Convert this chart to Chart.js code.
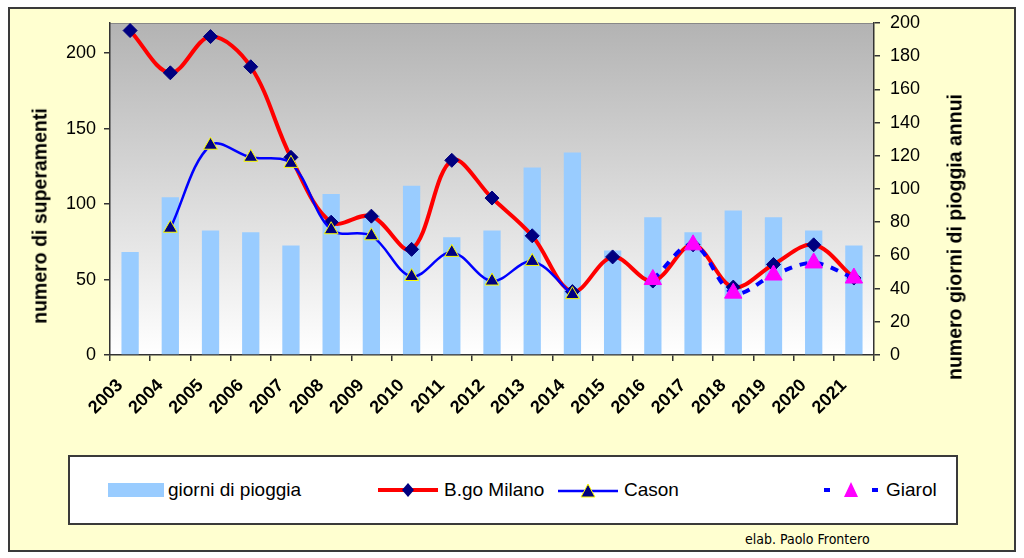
<!DOCTYPE html>
<html><head><meta charset="utf-8">
<script src="https://cdn.jsdelivr.net/npm/chart.js@4"></script>
<style>
html,body{margin:0;padding:0;background:#fff;width:1024px;height:558px;overflow:hidden;font-family:'Liberation Sans',Arial,sans-serif;}
#frame{position:absolute;left:8px;top:7px;width:1008px;height:545px;box-sizing:border-box;border:2px solid #3a3a3a;background:#FFFFD0;}
#wrap{position:absolute;left:0;top:0;width:1024px;height:450px;}
.vt{position:absolute;white-space:nowrap;font-weight:bold;font-size:19.5px;color:#000;transform:translate(-50%,-50%) rotate(-90deg);}
#legend{position:absolute;left:68px;top:455px;width:890px;height:70px;box-sizing:border-box;border:2px solid #3a3a3a;background:#fff;}
.li{position:absolute;top:0;height:66px;display:flex;align-items:center;font-size:19px;color:#000;}
.li svg{margin-right:4px;}
#credit{position:absolute;left:745px;top:531px;font-family:'Liberation Sans Narrow','DejaVu Sans Condensed',sans-serif;font-stretch:condensed;font-size:14px;color:#000;}
</style></head>
<body>
<div id="frame"></div>
<div id="wrap"><canvas id="c" width="1024" height="450"></canvas></div>
<div class="vt" style="left:40px;top:216px;">numero di superamenti</div>
<div class="vt" style="left:955px;top:237px;">numero giorni di pioggia annui</div>
<div id="legend">
  <div class="li" style="left:38px;"><svg width="56" height="16"><rect x="0" y="1" width="56" height="14" fill="#99CCFF"/></svg>giorni di pioggia</div>
  <div class="li" style="left:308px;"><svg width="62" height="18"><line x1="0" y1="9" x2="60" y2="9" stroke="#FF0000" stroke-width="4"/><polygon points="30,2 36,9 30,16 24,9" fill="#000080"/></svg>B.go Milano</div>
  <div class="li" style="left:488px;"><svg width="62" height="18"><line x1="0" y1="10" x2="60" y2="10" stroke="#0000FF" stroke-width="2.5"/><polygon points="30,3 37,16 23,16" fill="#000080" stroke="#FFFF00" stroke-width="1"/></svg>Cason</div>
  <div class="li" style="left:750px;"><svg width="62" height="18"><line x1="4" y1="9" x2="10" y2="9" stroke="#0000FF" stroke-width="4"/><line x1="52" y1="9" x2="58" y2="9" stroke="#0000FF" stroke-width="4"/><polygon points="31,1 38,16 24,16" fill="#FF00FF"/></svg>Giarol</div>
</div>
<div id="credit">elab. Paolo Frontero</div>
<script>
const years = ['2003','2004','2005','2006','2007','2008','2009','2010','2011','2012','2013','2014','2015','2016','2017','2018','2019','2020','2021'];
const rainDays = [62, 95, 75, 74, 66, 97, 84, 102, 71, 75, 113, 122, 63, 83, 74, 87, 83, 75, 66];
const bgoMilano = [215, 187, 211, 191, 131, 88, 92, 70, 129, 104, 79, 42, 65, 49, 73, 45, 60, 73, 51];
const cason = [null, 84, 139, 131, 127, 83, 79, 52, 68, 49, 62, 40, null, null, null, null, null, null, null];
const giarol = [null, null, null, null, null, null, null, null, null, null, null, null, null, 50, 73, 41, 53, 61, 51];
const leftTicks = [0, 50, 100, 150, 200];

const FAM = "'Liberation Sans', Arial, sans-serif";

const bgPlugin = {
  id: 'bg',
  beforeDraw(chart) {
    const {ctx, chartArea: a} = chart;
    const g = ctx.createLinearGradient(0, a.top, 0, a.bottom);
    g.addColorStop(0, '#B3B3B3');
    g.addColorStop(1, '#FFFFFF');
    ctx.save();
    ctx.fillStyle = g;
    ctx.fillRect(a.left, a.top, a.right - a.left, a.bottom - a.top);
    ctx.strokeStyle = '#888888';
    ctx.lineWidth = 1;
    ctx.beginPath();
    ctx.moveTo(a.left, a.top + 0.5);
    ctx.lineTo(a.right, a.top + 0.5);
    ctx.stroke();
    ctx.restore();
  }
};

new Chart(document.getElementById('c'), {
  data: {
    labels: years,
    datasets: [
      { type: 'line', label: 'Giarol', data: giarol, yAxisID: 'y', order: 1,
        borderColor: '#0000FF', borderWidth: 4, borderDash: [8, 8], tension: 0.35,
        pointStyle: 'triangle', pointRadius: 10, pointBackgroundColor: '#FF00FF', pointBorderColor: '#FF00FF', pointBorderWidth: 1 },
      { type: 'line', label: 'Cason', data: cason, yAxisID: 'y', order: 2,
        borderColor: '#0000FF', borderWidth: 2.5, tension: 0.35,
        pointStyle: 'triangle', pointRadius: 8, pointBackgroundColor: '#000080', pointBorderColor: '#FFFF00', pointBorderWidth: 1 },
      { type: 'line', label: 'B.go Milano', data: bgoMilano, yAxisID: 'y', order: 3,
        borderColor: '#FF0000', borderWidth: 4, tension: 0.35,
        pointStyle: 'rectRot', pointRadius: 7, pointBackgroundColor: '#000080', pointBorderColor: '#000080', pointBorderWidth: 1 },
      { type: 'bar', label: 'giorni di pioggia', data: rainDays, yAxisID: 'y1', order: 4,
        backgroundColor: '#99CCFF', borderWidth: 0, barPercentage: 0.43, categoryPercentage: 1 }
    ]
  },
  options: {
    responsive: false,
    animation: false,
    layout: { padding: { top: 23, left: 0, right: 0, bottom: 0 } },
    plugins: { legend: { display: false }, tooltip: { enabled: false } },
    scales: {
      x: {
        offset: true,
        grid: { display: true, drawOnChartArea: false, offset: true, tickLength: 6, color: '#333', lineWidth: 1.5 },
        border: { color: '#333', width: 1.5 },
        ticks: { font: { size: 18, weight: 'bold', family: FAM }, color: '#000', maxRotation: 45, minRotation: 45, autoSkip: false, labelOffset: -10, padding: 14 },
        afterFit(s) { s.height = 95; }
      },
      y: {
        position: 'left', min: 0, max: 220,
        afterBuildTicks(s) { s.ticks = leftTicks.map(v => ({ value: v })); },
        grid: { drawOnChartArea: false, tickLength: 6, color: '#333', lineWidth: 1.5 },
        border: { color: '#333', width: 1.5 },
        ticks: { font: { size: 18, family: FAM }, color: '#000', padding: 8 },
        afterFit(s) { s.width = 110; }
      },
      y1: {
        position: 'right', min: 0, max: 200,
        grid: { drawOnChartArea: false, tickLength: 6, color: '#333', lineWidth: 1.5 },
        border: { color: '#333', width: 1.5 },
        ticks: { stepSize: 20, font: { size: 18, family: FAM }, color: '#000', padding: 10 },
        afterFit(s) { s.width = 150; }
      }
    }
  },
  plugins: [bgPlugin]
});
</script>
</body></html>
